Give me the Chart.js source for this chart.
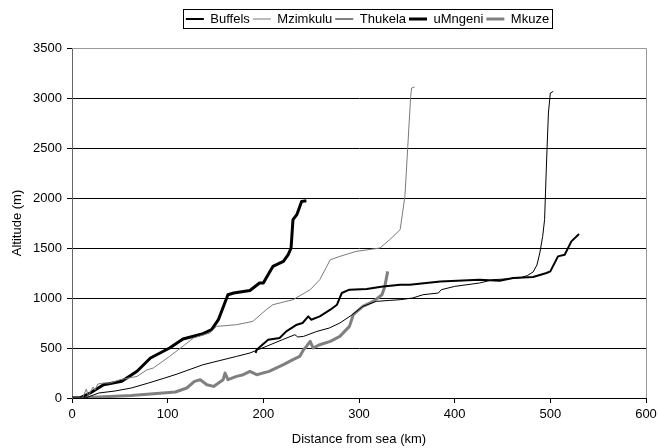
<!DOCTYPE html>
<html>
<head>
<meta charset="utf-8">
<script src="https://cdn.jsdelivr.net/npm/chart.js@4/dist/chart.umd.min.js"></script>
<style>
    body { margin: 0; background: #fff; }
    canvas { display: block; }
</style>
</head>
<body>
<canvas id="profile-chart" width="658" height="448"></canvas>
<script>
// River long profiles: distance from sea (km) vs altitude (m)

const buffelsKm  = [192, 193, 205, 217, 224, 235, 241, 247, 250, 259, 270, 277, 282, 290, 308, 325, 343, 353, 385, 426, 447, 461, 482, 496, 500, 508, 515, 522, 530];
const buffelsAlt = [450, 483, 583, 600, 666, 733, 750, 816, 783, 816, 883, 933, 1050, 1083, 1090, 1116, 1133, 1133, 1166, 1183, 1173, 1200, 1210, 1250, 1266, 1416, 1433, 1566, 1640];

const mzimkuluKm  = [0, 11, 15, 17, 22, 24, 27, 33, 40, 50, 68, 78, 85, 102, 118, 127, 144, 151, 172, 189, 203, 210, 231, 249, 259, 270, 280, 297, 322, 332, 343, 348, 351, 354, 355, 358];
const mzimkuluAlt = [0, 0, 90, 20, 110, 80, 140, 150, 150, 183, 216, 280, 300, 416, 533, 600, 650, 716, 733, 766, 883, 933, 983, 1083, 1183, 1383, 1416, 1466, 1500, 1583, 1683, 2016, 2516, 3016, 3100, 3110];

const thukelaKm  = [0, 14, 28, 45, 62, 80, 97, 110, 137, 172, 186, 204, 220, 233, 236, 242, 256, 269, 280, 293, 304, 318, 332, 343, 356, 367, 383, 386, 400, 426, 440, 461, 470, 476, 482, 486, 489, 492, 494, 496, 498, 500, 503];
const thukelaAlt = [0, 0, 50, 70, 100, 150, 200, 240, 333, 416, 450, 520, 583, 633, 610, 616, 666, 700, 750, 833, 916, 966, 976, 983, 1000, 1033, 1050, 1083, 1116, 1150, 1183, 1195, 1205, 1225, 1260, 1330, 1450, 1616, 1783, 2350, 2850, 3050, 3066];

const umngeniKm  = [0, 8, 19, 33, 40, 52, 68, 82, 102, 116, 137, 146, 153, 163, 169, 186, 196, 200, 206, 210, 221, 226, 229, 231, 235, 240, 245];
const umngeniAlt = [0, 0, 50, 133, 145, 167, 267, 400, 500, 590, 643, 683, 783, 1033, 1050, 1075, 1150, 1150, 1250, 1316, 1366, 1433, 1500, 1783, 1833, 1966, 1973];

const mkuzeKm  = [0, 28, 62, 82, 108, 120, 128, 134, 141, 148, 158, 160, 163, 172, 179, 186, 193, 206, 221, 231, 238, 242, 245, 249, 252, 259, 270, 280, 290, 294, 304, 315, 324, 327, 330];
const mkuzeAlt = [0, 10, 25, 40, 60, 100, 166, 183, 133, 116, 183, 250, 183, 216, 233, 266, 233, 266, 333, 383, 416, 483, 516, 566, 500, 533, 566, 616, 716, 833, 916, 966, 1033, 1116, 1266];

const xTicks = [0, 100, 200, 300, 400, 500, 600];
const yTicks = [0, 500, 1000, 1500, 2000, 2500, 3000, 3500];

function toPoints(xs, ys) {
    return xs.map((x, i) => ({ x: x, y: ys[i] }));
}

Chart.defaults.font.family = '"Liberation Sans", Arial, sans-serif';
Chart.defaults.font.size = 13;
Chart.defaults.color = '#000';

// move the legend into place
const legendShift = {
    id: 'legendShift',
    afterLayout(chart) {
        const lg = chart.legend;
        lg.top -= 12.5;
        lg.bottom -= 12.5;
        lg.left += 42;
        lg.right += 42;
    }
};

// legend frame and plot-area border (top / right)
const frames = {
    id: 'frames',
    afterDraw(chart) {
        const ctx = chart.ctx;
        const area = chart.chartArea;
        ctx.save();
        ctx.lineWidth = 1;
        ctx.strokeStyle = '#999';
        ctx.beginPath();
        ctx.moveTo(area.left, area.top + 0.5);
        ctx.lineTo(area.right + 0.5, area.top + 0.5);
        ctx.lineTo(area.right + 0.5, area.bottom);
        ctx.stroke();

        const boxes = chart.legend.legendHitBoxes;
        if (boxes && boxes.length) {
            const left = Math.min(...boxes.map(b => b.left));
            const right = Math.max(...boxes.map(b => b.left + b.width));
            ctx.strokeStyle = '#000';
            ctx.strokeRect(Math.round(left - 3) + 0.5, 9.5, Math.round(right - left + 6), 19);
        }
        ctx.restore();
    }
};

const ctx = document.getElementById('profile-chart').getContext('2d');

new Chart(ctx, {
    type: 'scatter',
    data: {
        datasets: [
            { label: 'Buffels',  data: toPoints(buffelsKm, buffelsAlt),   borderColor: '#000',    borderWidth: 2 },
            { label: 'Mzimkulu', data: toPoints(mzimkuluKm, mzimkuluAlt), borderColor: '#7a7a7a', borderWidth: 1 },
            { label: 'Thukela',  data: toPoints(thukelaKm, thukelaAlt),   borderColor: '#000',    borderWidth: 1 },
            { label: 'uMngeni',  data: toPoints(umngeniKm, umngeniAlt),   borderColor: '#000',    borderWidth: 3 },
            { label: 'Mkuze',    data: toPoints(mkuzeKm, mkuzeAlt),       borderColor: '#808080', borderWidth: 3 }
        ].map(ds => Object.assign(ds, {
            showLine: true,
            pointRadius: 0,
            pointHoverRadius: 0,
            tension: 0,
            fill: false,
            backgroundColor: ds.borderColor,
            borderJoinStyle: 'round'
        }))
    },
    options: {
        responsive: false,
        animation: false,
        layout: { padding: { left: 5, top: 22, right: 12, bottom: 0 } },
        plugins: {
            tooltip: { enabled: false },
            legend: {
                position: 'top',
                labels: {
                    usePointStyle: true,
                    pointStyle: 'line',
                    pointStyleWidth: 18,
                    boxHeight: 13,
                    padding: 3,
                    color: '#000',
                    font: { size: 13 }
                }
            }
        },
        scales: {
            x: {
                type: 'linear',
                min: 0,
                max: 600,
                afterBuildTicks: s => { s.ticks = xTicks.map(v => ({ value: v })); },
                afterFit: s => { s.height = 50; s.paddingRight = 0; s.paddingLeft = 0; },
                ticks: { color: '#000', padding: 4, maxRotation: 0, callback: v => String(v) },
                grid: { drawOnChartArea: false, color: '#000', tickLength: 5 },
                border: { color: '#000' },
                title: { display: true, text: 'Distance from sea (km)', color: '#000', padding: { top: 0, bottom: 1 } }
            },
            y: {
                min: 0,
                max: 3500,
                afterBuildTicks: s => { s.ticks = yTicks.map(v => ({ value: v })); },
                afterFit: s => { s.width = 67; },
                ticks: { color: '#000', padding: 5, callback: v => String(v) },
                grid: {
                    color: c => (c.tick && c.tick.value === 3500 ? '#999' : '#000'),
                    tickColor: '#000',
                    tickLength: 5
                },
                border: { color: '#666' },
                title: { display: true, text: 'Altitude (m)', color: '#000', padding: { top: 5, bottom: 0 } }
            }
        }
    },
    plugins: [legendShift, frames]
});
</script>
</body>
</html>
